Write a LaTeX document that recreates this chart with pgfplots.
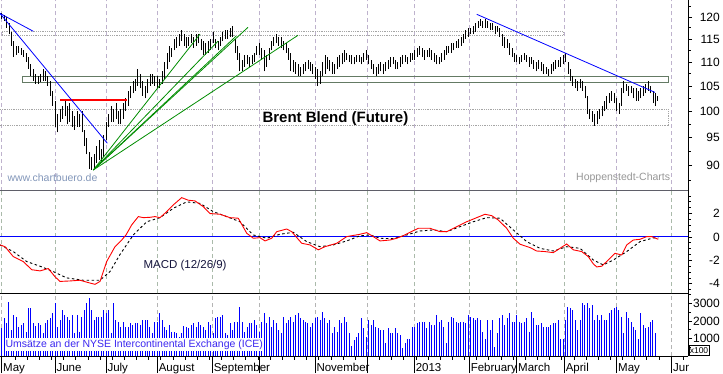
\documentclass[border=0pt]{standalone}
\usepackage{fontspec}
\setmainfont{Liberation Sans}
\usepackage{pgfplots}
\usepackage{pgfplotstable}
\pgfplotsset{compat=1.18}

\definecolor{gridP}{RGB}{190,178,205}
\definecolor{gridM}{RGB}{170,186,170}
\definecolor{gridV}{RGB}{180,180,180}
\definecolor{sepgray}{RGB}{95,95,105}
\definecolor{boxgreen}{RGB}{100,122,100}
\definecolor{dotgray}{RGB}{165,165,165}
\definecolor{fangreen}{RGB}{0,140,0}
\definecolor{urlblue}{RGB}{130,150,185}
\definecolor{hopgray}{RGB}{150,150,150}
\definecolor{macdtxt}{RGB}{20,20,60}
\definecolor{voltxt}{RGB}{60,40,240}

\pgfplotstableread{
h l
121.0 119.5
120.5 119.0
120.0 117.5
118.5 116.0
116.5 113.5
114.5 111.0
113.5 111.5
113.5 112.0
113.0 111.5
112.5 111.0
112.0 110.0
111.0 108.5
109.5 107.0
108.5 106.0
107.5 105.5
107.0 105.5
107.5 105.8
108.5 106.0
108.0 106.0
107.0 105.0
106.0 103.0
104.0 101.0
102.0 97.0
99.5 96.0
100.5 98.0
101.0 98.5
102.0 99.0
101.0 97.5
101.5 98.0
100.0 97.0
99.0 96.5
100.0 97.0
99.5 97.0
100.0 96.0
96.5 93.5
95.0 92.0
92.5 89.5
91.5 89.3
92.0 89.5
93.5 90.5
94.5 91.0
93.0 90.5
95.5 91.5
98.0 94.5
99.5 97.0
101.0 98.0
100.5 98.0
101.5 98.5
100.0 97.5
100.5 97.5
101.5 98.5
102.5 100.0
104.0 101.0
105.0 102.5
106.0 103.5
106.5 104.0
108.5 105.0
107.5 104.5
106.0 103.0
105.0 102.5
106.5 103.5
107.5 105.0
107.5 105.5
107.0 105.0
107.0 104.5
106.5 104.5
108.0 105.5
110.0 106.5
112.0 108.5
113.5 110.0
113.0 111.0
115.0 112.5
115.5 113.0
116.0 113.5
117.0 114.5
116.0 113.5
115.5 113.0
115.5 113.5
116.0 114.0
115.5 113.0
116.0 113.5
116.0 114.0
115.0 112.5
114.5 111.5
114.0 111.5
114.5 112.0
115.0 112.5
116.5 114.0
115.0 113.0
114.5 112.5
115.5 113.5
116.5 114.5
117.0 115.0
117.0 115.0
117.5 115.5
118.0 115.5
115.0 112.0
113.5 110.5
112.0 108.0
110.5 108.0
111.5 109.0
111.5 109.5
111.0 109.0
111.5 109.5
112.0 110.0
113.5 111.5
114.0 111.5
113.0 110.5
112.5 108.0
111.5 109.0
113.0 110.5
114.5 112.5
115.5 113.5
116.0 114.0
115.5 113.5
115.5 113.0
114.5 112.5
114.0 112.0
113.0 110.5
112.0 108.0
110.5 107.8
110.0 107.5
109.5 107.0
109.0 107.0
109.5 107.5
110.0 108.0
110.5 108.5
110.0 108.0
109.5 107.5
109.0 106.5
108.5 105.0
108.0 105.5
110.0 107.0
111.5 107.5
111.0 108.5
110.5 108.0
110.0 107.5
109.5 107.5
111.0 108.5
111.5 109.0
112.0 109.5
112.5 110.0
112.0 110.5
111.5 110.0
111.5 109.5
111.0 109.5
111.5 110.0
111.5 110.0
111.0 109.5
112.0 110.0
112.5 110.5
111.5 109.5
110.5 108.5
109.5 107.5
109.0 107.0
109.5 107.5
110.0 108.0
109.5 107.5
110.0 108.0
110.5 108.5
111.0 109.0
111.0 109.5
110.5 108.5
110.0 108.5
111.0 109.0
111.5 109.5
111.5 110.0
111.0 109.5
112.0 110.0
112.0 110.5
112.5 110.5
113.0 111.0
113.5 111.5
113.0 111.0
112.5 110.5
112.5 111.0
113.0 111.0
112.5 110.5
112.0 110.0
111.5 109.5
111.0 109.5
112.0 110.0
112.5 110.5
113.5 111.5
113.5 112.0
114.0 112.0
114.0 112.5
114.5 113.0
115.0 113.0
115.5 113.5
116.0 114.0
117.0 115.0
117.5 115.5
117.5 116.0
118.0 116.0
118.5 116.5
119.0 117.5
119.5 118.0
119.0 117.5
119.5 117.5
119.0 117.5
118.5 117.0
118.5 117.0
118.0 116.0
118.0 116.5
117.5 115.5
116.0 113.5
115.5 113.0
115.0 113.0
114.0 111.5
113.0 111.0
112.0 110.0
111.5 110.0
111.0 109.5
111.5 110.0
112.0 110.5
111.5 110.0
111.0 109.0
111.0 109.5
110.5 108.5
110.0 108.0
110.5 108.5
110.0 108.0
109.5 107.5
109.0 107.5
108.5 107.0
109.5 107.5
110.0 108.0
110.5 108.5
110.5 109.0
111.0 109.0
111.5 109.5
112.0 110.0
110.0 107.5
108.5 106.0
107.0 105.0
106.5 104.5
106.0 104.0
106.5 104.5
106.0 104.0
105.0 102.5
103.0 99.5
100.5 98.5
100.0 98.0
99.5 97.2
100.0 97.5
100.5 98.5
101.0 99.0
102.0 100.0
103.0 100.5
103.5 101.5
104.0 102.0
103.5 101.5
102.5 100.0
101.5 99.5
104.5 101.0
106.0 103.5
105.5 104.0
105.0 103.0
105.0 103.5
104.5 102.5
104.5 102.0
104.0 102.0
104.5 102.5
105.0 103.0
105.5 103.5
106.0 104.0
105.0 103.5
104.0 101.5
103.5 101.0
103.0 102.0
}\pricedata

\pgfplotstableread{
v
1580
2150
1870
3100
1490
2340
2250
1670
1750
1870
1390
2730
2730
1870
1720
1870
1770
1300
1870
2060
2150
2440
3010
1670
2060
2630
2340
2250
2060
2340
1300
2340
1390
2250
2630
3050
3300
2630
2060
2250
2250
2250
2630
2440
2630
1300
3030
2060
1960
1670
1960
1670
1670
1870
1770
1870
1870
1770
2060
2060
2060
1670
1300
1960
1960
2440
2060
1670
1490
1770
1390
1390
1300
1100
1300
1700
1670
1600
1770
1870
1670
1960
1770
1670
1490
1960
1770
1300
2150
2250
2250
2340
1300
1200
1870
1490
1960
1960
2820
1960
1390
1670
1870
1870
2060
1770
1390
1960
2440
1870
2250
1670
2060
1870
1490
1300
2250
1870
2060
2250
1960
2340
2440
2150
2060
1960
1870
1670
1870
2150
2250
2060
2530
2150
1870
2060
1300
1670
1390
2060
1870
2250
1960
1300
600
900
1100
1300
2150
1580
1100
2060
1770
2060
1670
1580
1490
1490
740
1580
1300
1300
1580
1300
1200
450
740
1000
1000
1670
1670
1870
1960
1960
1960
1580
1960
1770
1770
2340
1960
2060
1670
740
1960
2250
2150
1960
1870
1960
1960
1870
2340
2250
2150
2060
2150
2060
1390
1000
2060
1490
2060
530
1300
2150
2340
1770
2150
2440
1960
1960
2340
1960
1870
1960
2150
1390
2530
2150
1770
1770
1870
1670
1670
1670
1770
1870
1870
2060
1000
1000
2060
2820
2730
2630
2060
1490
2060
3010
2920
3010
2730
2920
2060
2340
2060
2340
2060
2060
2440
2630
2730
2820
2630
2250
1300
2530
2150
1960
1670
1490
1000
2440
1770
1580
1670
1960
2060
1300
}\voldata

\pgfplotsset{
  panel/.style={
    scale only axis, width=688pt, xmin=0, xmax=688,
    anchor=south west,
    axis x line=bottom, axis y line=right,
    axis line style={-},
    tick align=outside,
    major tick length=4pt, minor tick length=2.5pt,
    xtick={1.7,55,106,157.3,212.3,259.3,315,367.3,414.3,469.3,516.7,564.3,616.7,671.7},
    xticklabels={},
    xticklabel style={text opacity=0},
    xtick style={draw=none},
    xmajorgrids,
    ytick style={black, line width=0.8pt},
    y axis line style={black, line width=0.8pt},
    yticklabel style={anchor=east, inner sep=0pt, xshift=28pt, font=\fontsize{12}{14}\selectfont},
  },
}

\begin{document}
\begin{tikzpicture}
\useasboundingbox (0pt,0pt) rectangle (723pt,373pt);

% ---------------- price panel (logarithmic price scale) ----------------
\begin{axis}[panel, at={(0pt,182.5pt)}, height=190.5pt,
  y coord trafo/.code={\pgfmathparse{ln(#1)}},
  y coord inv trafo/.code={\pgfmathparse{exp(#1)}},
  ymin=85.79, ymax=124.0,
  ytick={90,95,100,105,110,115,120},
  yticklabels={90,95,100,105,110,115,120},
  minor ytick={87.5,92.5,97.5,102.5,107.5,112.5,117.5,122.5},
  x axis line style={draw=sepgray, line width=0.8pt},
  grid style={gridP, line width=0.7pt, dash pattern=on 4pt off 3pt},
]
% horizontal zones
\addplot[dotgray, line width=0.8pt, densely dotted] coordinates {(2,116.57) (563,116.57) (563,115.68) (2,115.68) (2,116.57)};
\addplot[dotgray, line width=0.8pt, densely dotted] coordinates {(0,100.36) (668,100.36) (668,97.3) (0,97.3)};
\addplot[boxgreen, line width=0.9pt] coordinates {(22.3,107.0) (668,107.0) (668,105.65) (22.3,105.65) (22.3,107.0)};
% daily high-low bars
\pgfplotsinvokeforeach{0,...,270}{
  \pgfplotstablegetelem{#1}{h}\of\pricedata \let\barhi\pgfplotsretval
  \pgfplotstablegetelem{#1}{l}\of\pricedata \let\barlo\pgfplotsretval
  \pgfmathsetmacro\barx{1.7+2.43*#1}
  \edef\dobar{\noexpand\addplot[black, line width=0.75pt, forget plot] coordinates {(\barx,\barlo) (\barx,\barhi)};}
  \dobar
}
% red resistance line
\addplot[red, line width=1.3pt] coordinates {(60,102.2) (127,102.2)};
% blue trend lines
\addplot[blue, line width=0.8pt] coordinates {(0,120.8) (107.3,94.0)};
\addplot[blue, line width=0.8pt] coordinates {(0,120.8) (33.3,116.7)};
\addplot[blue, line width=0.8pt] coordinates {(476.7,120.6) (655,103.7)};
% green fan
\addplot[fangreen, line width=0.8pt] coordinates {(93.3,89.26) (200,116.06)};
\addplot[fangreen, line width=0.8pt] coordinates {(93.3,89.26) (218,114.5)};
\addplot[fangreen, line width=0.8pt] coordinates {(93.3,89.26) (236,115.6)};
\addplot[fangreen, line width=0.8pt] coordinates {(93.3,89.26) (248,117.6)};
\addplot[fangreen, line width=0.8pt] coordinates {(93.3,89.26) (298,115.8)};
\end{axis}

% ---------------- MACD panel ----------------
\begin{axis}[panel, at={(0pt,80pt)}, height=102.5pt,
  ymin=-4.79, ymax=3.97,
  ytick={-4,-2,0,2}, yticklabels={-4,-2,0,2},
  minor ytick={-4.5,-3.5,-3,-2.5,-1.5,-1,-0.5,0.5,1,1.5,2.5,3,3.5},
  x axis line style={draw=black, line width=0.8pt},
  grid style={gridM, line width=0.7pt, dash pattern=on 4pt off 3pt},
]
\addplot[blue, line width=1pt] coordinates {(0,0) (688,0)};
\addplot[black, line width=0.9pt, dash pattern=on 2.5pt off 2.5pt] coordinates {
(0,-0.68) (13.3,-1.25) (26.7,-2.1) (40,-2.5) (53.3,-2.96) (66.7,-3.5) (83.3,-3.7) (100,-3.7)
(110,-2.96) (120,-1.5) (133.3,0.17) (146.7,1.3) (160,1.65) (173.3,2.45) (186.7,3.0) (200,2.87)
(213.3,2.16) (226.7,1.74) (240,1.3) (253.3,0.17) (266.7,-0.11) (280,0.23) (293.3,0.4) (306.7,-0.4)
(320,-0.83) (333.3,-0.68) (346.7,-0.34) (360,0.1) (370,0.17) (380,-0.11) (393.3,-0.15) (406.7,0.17)
(420,0.51) (433.3,0.6) (446.7,0.45) (460,0.88) (473.3,1.3) (486.7,1.65) (500,1.6) (513.3,0.6)
(526.7,-0.4) (540,-0.97) (553.3,-1.2) (566.7,-0.83) (580,-0.97) (593.3,-1.97) (603.3,-2.39)
(613.3,-1.97) (626.7,-1.25) (640,-0.4) (653.3,-0.08) (658.3,-0.08)};
\addplot[red, line width=0.9pt] coordinates {
(0,-0.68) (5,-0.83) (13.3,-1.68) (23.3,-2.1) (31.7,-2.8) (40,-2.9) (48.3,-2.7) (55,-3.4) (60,-3.8)
(70,-3.76) (80,-3.7) (88.3,-3.9) (95,-4.05) (100,-3.8) (106.7,-2.1) (115,-0.83) (121.7,-0.26)
(126,0.17) (131.7,1.03) (138.3,1.74) (143.3,1.65) (150,1.68) (155,1.74) (160,1.65) (166.7,2.16)
(173.3,2.74) (181.7,3.36) (188.3,3.14) (195,3.08) (203.3,2.59) (210,2.0) (220,1.94) (230,1.65)
(238.3,1.6) (246.7,0.32) (253.3,-0.11) (260,-0.06) (265,-0.34) (271.7,-0.11) (276.7,0.45)
(286.7,0.68) (291.7,0.45) (301.7,-0.54) (310,-0.68) (318.3,-1.1) (325,-0.83) (336.7,-0.54)
(346.7,0.03) (360,0.23) (366.7,0.37) (373.3,0.03) (380,-0.34) (390,-0.26) (396.7,-0.11)
(403.3,0.11) (410,0.4) (418.3,0.74) (430,0.74) (440,0.45) (446.7,0.45) (456.7,0.88) (466.7,1.3)
(476.7,1.65) (485,1.94) (491.7,1.82) (498.3,1.45) (506.7,0.74) (513.3,-0.11) (520,-0.62)
(530,-0.91) (536.7,-1.2) (545,-1.25) (553.3,-1.34) (560,-0.97) (566.7,-0.6) (573.3,-1.1)
(581.7,-1.25) (588.3,-1.68) (593.3,-2.3) (596.7,-2.56) (601.7,-2.5) (608.3,-1.97) (615,-1.4)
(621.7,-1.54) (626.7,-0.68) (633.3,-0.26) (640,-0.2) (646.7,0.03) (651.7,0.03) (658.3,-0.2)};
\end{axis}

% ---------------- volume panel ----------------
\begin{axis}[panel, at={(0pt,17pt)}, height=63pt,
  ymin=0, ymax=3600,
  ytick={1000,2000,3000}, yticklabels={1000,2000,3000},
  minor ytick={500,1500,2500,3500},
  x axis line style={draw=black, line width=0.8pt},
  grid style={gridV, line width=0.7pt, dash pattern=on 4pt off 3pt},
]
\addplot[ycomb, blue, line width=1pt, mark=none] table[x expr={1.7+2.43*\coordindex}, y=v] {\voldata};
\end{axis}

% ---------------- month strip ----------------
\begin{scope}
\clip (0pt,-5pt) rectangle (688pt,17pt);
\begin{axis}[scale only axis, width=688pt, height=17pt, at={(0pt,0pt)}, anchor=south west,
  xmin=0, xmax=688, ymin=0, ymax=1,
  axis line style={draw=none}, ytick=\empty,
  xtick={1.7,55,106,157.3,212.3,259.3,315,367.3,414.3,469.3,516.7,564.3,616.7,671.7},
  xticklabels={May,June,July,August,September,,November,,2013,February,March,April,May,June},
  xtick pos=right, xticklabel pos=left,
  tick align=inside, major tick length=3.5pt, minor tick length=3.5pt,
  minor xtick={15,27.15,...,680},
  tick style={black, line width=0.8pt},
  xmajorgrids, major grid style={black, line width=0.8pt, solid},
  xticklabel style={anchor=base west, inner sep=0pt, xshift=1.3pt, yshift=1.5pt, text=black,
    font=\fontsize{11.5}{13}\selectfont},
]
\addplot[draw=none] coordinates {(0,0)};
\end{axis}
\end{scope}

% ---------------- texts ----------------
\node[anchor=base west, inner sep=0pt, font=\bfseries\fontsize{15}{18}\selectfont] at (262.3pt,250.3pt) {Brent Blend (Future)};
\node[anchor=base west, inner sep=0pt, text=urlblue, font=\fontsize{10.5}{12}\selectfont] at (7.3pt,191.3pt) {www.chartbuero.de};
\node[anchor=base west, inner sep=0pt, text=hopgray, font=\fontsize{10.5}{12}\selectfont] at (576pt,193pt) {Hoppenstedt-Charts};
\node[anchor=base west, inner sep=0pt, text=macdtxt, font=\fontsize{11.5}{13}\selectfont] at (143.3pt,104.7pt) {MACD (12/26/9)};
\node[anchor=base west, fill=white, inner xsep=1pt, inner ysep=1.6pt, text=voltxt, font=\fontsize{10.5}{12}\selectfont] at (4.3pt,25.7pt) {Umsätze an der NYSE Intercontinental Exchange (ICE)};
\node[draw=black, line width=0.8pt, inner xsep=0.8pt, inner ysep=1.8pt, font=\fontsize{8.5}{10}\selectfont] at (699pt,22.5pt) {x100};
\end{tikzpicture}
\end{document}
